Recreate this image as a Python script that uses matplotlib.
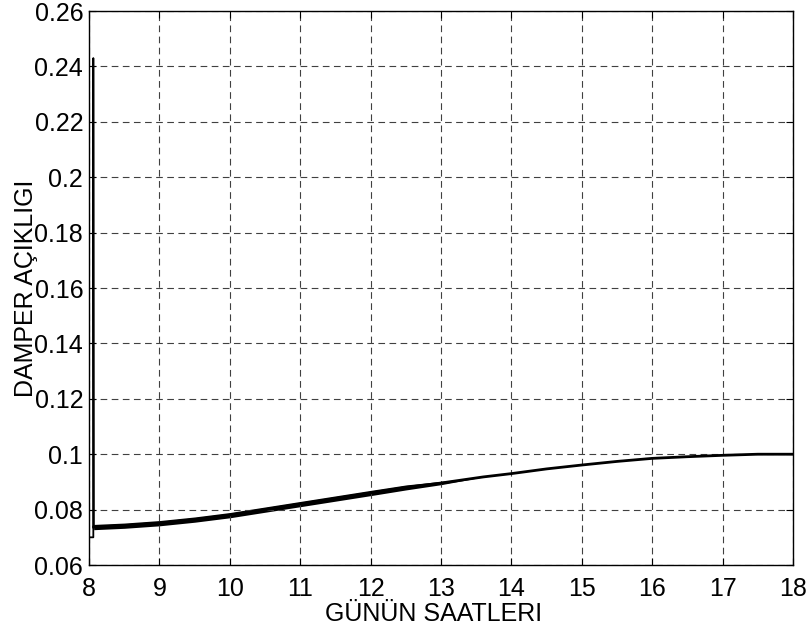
import numpy as np
import matplotlib
matplotlib.use("Agg")
import matplotlib.pyplot as plt

plt.rcParams['font.family'] = ['Liberation Sans', 'DejaVu Sans']

# start-up transient (hours, damper opening)
spike_t = [8.0, 8.06, 8.06, 8.065]
spike_y = [0.070, 0.070, 0.243, 0.0737]

# smooth trend
hours = [8.065, 8.5, 9.0, 9.5, 10.0, 10.5, 11.0, 11.5, 12.0, 12.5, 13.0,
         13.3, 13.6, 14.0, 14.5, 15.0, 15.5, 16.0, 16.5, 17.0, 17.5, 18.0]
damper = [0.0737, 0.0742, 0.0751, 0.0764, 0.0780, 0.0800, 0.0820, 0.0840,
          0.0860, 0.0880, 0.0896, 0.0907, 0.0918, 0.0930, 0.0947, 0.0961,
          0.0974, 0.0985, 0.0991, 0.0996, 0.1000, 0.1000]
# half width of the noisy band around the trend
band = [0.00095, 0.00095, 0.00095, 0.00095, 0.00095, 0.00095, 0.00095,
        0.00095, 0.00095, 0.0009, 0.0006, 0.0003, 0.0, 0.0, 0.0, 0.0, 0.0,
        0.0, 0.0, 0.0, 0.0, 0.0]

fig = plt.figure(figsize=(8.1, 6.33), dpi=100)
ax = fig.add_axes([0.110, 0.1074, 0.869, 0.8752])

ax.plot(spike_t, spike_y, color='black', lw=1.3)
ax.plot(hours, damper, color='black', lw=2.0)
lo = np.array(damper) - np.array(band)
hi = np.array(damper) + np.array(band)
ax.fill_between(hours, lo, hi, color='black', lw=0)

ax.set_xlim(8, 18)
ax.set_ylim(0.06, 0.26)
ax.set_xticks(range(8, 19))
ax.set_yticks(np.arange(0.06, 0.2601, 0.02))
ax.set_yticklabels(['0.06', '0.08', '0.1', '0.12', '0.14', '0.16', '0.18',
                    '0.2', '0.22', '0.24', '0.26'])

ax.grid(True, color='#404040', linestyle=(0, (6, 4)), lw=0.8)
ax.tick_params(direction='in', length=5, width=0.8, top=True, right=True,
               labelsize=18)
ax.tick_params(axis='x', pad=8.6)
ax.tick_params(axis='y', pad=4.3)
for s in ax.spines.values():
    s.set_linewidth(1.0)

ax.set_xlabel('GÜNÜN SAATLERI', fontsize=18)
ax.set_ylabel('DAMPER AÇIKLIGI', fontsize=18)
ax.xaxis.set_label_coords(0.490, -0.0668)
ax.yaxis.set_label_coords(-0.0724, 0.5)

fig.savefig('out.png', dpi=100)
